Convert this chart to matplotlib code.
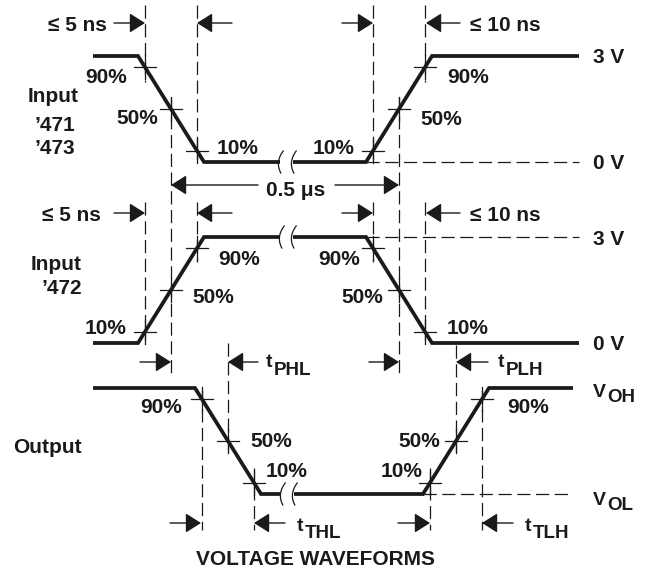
import numpy as np
import matplotlib.pyplot as plt

plt.rcParams['font.family'] = ['Liberation Sans', 'DejaVu Sans']
plt.rcParams['font.weight'] = 'bold'
plt.rcParams['lines.scale_dashes'] = False

INK = '#1a1a1a'
BIG = 15
MAIN_T = 14
SUB = 13.5

# drawing is laid out in pixel units, y pointing down
# each trace: corner points, split in two at the break mark
in1_x = [[93, 138, 204, 280], [293, 366, 432, 579]]
in1_y = [[56, 56, 162, 162], [162, 162, 56, 56]]
in2_x = [[93, 138, 204, 280], [293, 366, 432, 579]]
in2_y = [[343, 343, 237, 237], [237, 237, 343, 343]]
out_x = [[93, 195, 261, 281], [294, 423, 489, 573]]
out_y = [[388, 388, 494, 494], [494, 494, 388, 388]]

# levels (high, low) and edges as (x at low end, x at high end)
in1_lev = (56, 162)
in2_lev = (237, 343)
out_lev = (388, 494)
in1_edges = [(204, 138), (366, 432)]
in2_edges = [(138, 204), (432, 366)]
out_edges = [(261, 195), (423, 489)]

pcts = [10, 50, 90]

# vertical dashed reference lines: (top, bottom) for each edge, by percent
in1_vlines = [{90: (5, 82), 50: (97, 378), 10: (5, 160)},
              {10: (5, 160), 50: (97, 378), 90: (5, 82)}]
in2_vlines = [{10: (202, 340), 90: (202, 262)},
              {90: (202, 262), 10: (202, 340)}]
out_vlines = [{90: (390, 530), 50: (343, 453), 10: (468, 530)},
              {10: (468, 530), 50: (345, 453), 90: (390, 530)}]

# horizontal dashed reference levels: (y, x0, x1)
hlines = [(162, 366, 579), (237, 366, 579), (494, 423, 573)]

# break marks (x of each curve) per trace level
breaks_x = [[280, 293], [281, 293], [282, 294]]
breaks_y = [162, 237, 494]

# timing arrows: (tail x, tip x, y)
arrows = [(114, 145, 23), (232, 197, 23), (342, 373, 23), (460, 426, 23),
          (114, 145, 213), (232, 197, 213), (342, 373, 213), (460, 426, 213),
          (258, 171, 185), (335, 399, 185),
          (140, 171, 362), (258, 228, 362), (369, 399, 362), (488, 456, 362),
          (170, 201, 523), (285, 254, 523), (398, 430, 523), (513, 482, 523)]

# plain labels: (text, x, baseline, ha)
labels = [
    ('\u2264 5 ns', 107, 31, 'right'), ('\u2264 10 ns', 470, 31, 'left'),
    ('\u2264 5 ns', 101, 221, 'right'), ('\u2264 10 ns', 470, 221, 'left'),
    ('90%', 127, 83, 'right'), ('50%', 158, 124, 'right'),
    ('10%', 217, 154, 'left'), ('10%', 355, 154, 'right'),
    ('50%', 420, 125, 'left'), ('90%', 447, 83, 'left'),
    ('3 V', 593, 63, 'left'), ('0 V', 593, 169, 'left'),
    ('Input', 53, 102, 'center'), ('\u2019471', 55, 131, 'center'),
    ('\u2019473', 55, 154, 'center'),
    ('0.5 \u03bcs', 296, 196, 'center'),
    ('Input', 82, 270, 'right'), ('\u2019472', 82, 294, 'right'),
    ('10%', 127, 334, 'right'), ('50%', 192, 303, 'left'),
    ('90%', 218, 265, 'left'), ('90%', 360, 265, 'right'),
    ('50%', 383, 303, 'right'), ('10%', 447, 334, 'left'),
    ('3 V', 593, 245, 'left'), ('0 V', 593, 350, 'left'),
    ('Output', 13, 453, 'left'),
    ('90%', 182, 413, 'right'), ('50%', 250, 447, 'left'),
    ('10%', 266, 477, 'left'), ('50%', 440, 447, 'right'),
    ('10%', 422, 477, 'right'), ('90%', 507, 413, 'left'),
]

# subscripted labels: (main, sub, x, main baseline, sub dx, sub baseline)
sublabels = [
    ('t', 'PHL', 266, 367, 8, 375), ('t', 'PLH', 498, 367, 8, 375),
    ('t', 'THL', 297, 531, 8, 538), ('t', 'TLH', 525, 531, 8, 538),
    ('V', 'OH', 593, 397, 14, 402), ('V', 'OL', 593, 505, 14, 510),
]

title = 'VOLTAGE WAVEFORMS'

fig = plt.figure(figsize=(6.5, 5.71), dpi=100)
ax = fig.add_axes([0, 0, 1, 1])
ax.set_xlim(0, 650)
ax.set_ylim(571, 0)
ax.axis('off')

dash = dict(color=INK, lw=0.9, ls=(0, (9.5, 4)))

# waveforms
for xs, ys in [(in1_x, in1_y), (in2_x, in2_y), (out_x, out_y)]:
    for x, y in zip(xs, ys):
        ax.plot(x, y, color=INK, lw=2.7, solid_joinstyle='miter', solid_capstyle='butt')

# break marks
t = np.linspace(-1, 1, 30)
for bx, by in zip(breaks_x, breaks_y):
    for x0 in bx:
        ax.plot(x0 + 3.5 * t**2 - 1.5 - 1.2 * t, by + 11 * t, color=INK, lw=0.9)

# crosses and vertical dashed lines
for lev, edges, vls in [(in1_lev, in1_edges, in1_vlines),
                        (in2_lev, in2_edges, in2_vlines),
                        (out_lev, out_edges, out_vlines)]:
    hi, lo = lev
    for (xl, xh), vl in zip(edges, vls):
        for p in pcts:
            f = p / 100
            cx = xl + f * (xh - xl)
            cy = lo + f * (hi - lo)
            ax.plot([cx - 11, cx + 11], [cy, cy], color=INK, lw=0.9)
            ax.plot([cx, cx], [cy - 12, cy + 12], color=INK, lw=0.9)
            if p in vl:
                y0, y1 = vl[p]
                ax.plot([cx, cx], [y0, y1], **dash)

for y, x0, x1 in hlines:
    ax.plot([x0, x1], [y, y], **dash)

# arrows
for xt, xh, y in arrows:
    ax.annotate('', xy=(xh, y), xytext=(xt, y),
                arrowprops=dict(arrowstyle='-|>,head_length=0.95,head_width=0.6',
                                mutation_scale=10, lw=1.0, color=INK,
                                shrinkA=0, shrinkB=0))

for s, x, y, ha in labels:
    ax.text(x, y, s, ha=ha, va='baseline', fontsize=BIG, color=INK)

for main, sub, x, y, dx, ys in sublabels:
    ax.text(x, y, main, ha='left', va='baseline', fontsize=MAIN_T, color=INK)
    ax.text(x + dx, ys, sub, ha='left', va='baseline', fontsize=SUB, color=INK)

ax.text(316, 565, title, ha='center', va='baseline', fontsize=BIG, color=INK)

fig.savefig('out.png', dpi=100)
